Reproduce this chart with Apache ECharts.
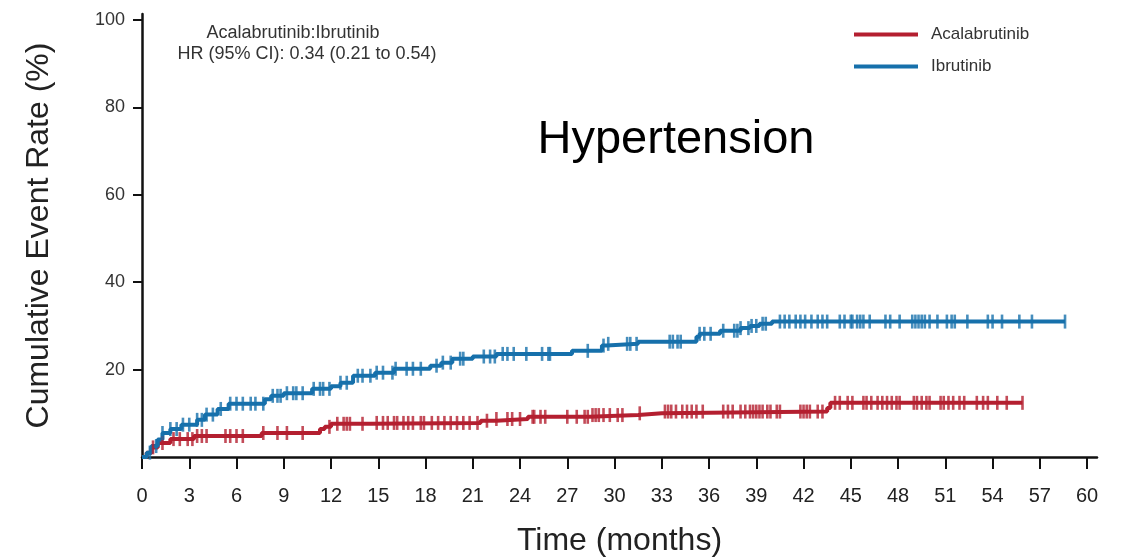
<!DOCTYPE html>
<html><head><meta charset="utf-8">
<script src="https://cdn.jsdelivr.net/npm/echarts@6/dist/echarts.min.js"></script>
<style>html,body{margin:0;padding:0;background:#fff}#c{width:1125px;height:558px}</style>
</head><body><div id="c"></div>
<script>
// ---- data ----
const xTicks = [0,3,6,9,12,15,18,21,24,27,30,33,36,39,42,45,48,51,54,57,60];
const yTicks = [20,40,60,80,100];
const seriesNames = ['Acalabrutinib','Ibrutinib'];

// Acalabrutinib KM step curve (time in months, cumulative event %)
const acalaT = [0,0.3,0.6,1.0,1.8,3.3,7.6,11.3,11.6,12.0,14.5,21.5,22.5,24.5,28.4,31.5,33.0,43.5,43.7,55.9];
const acalaV = [0,1.0,2.2,3.2,4.1,4.8,5.5,6.4,6.9,7.6,7.8,8.3,8.7,9.2,9.6,10.0,10.4,11.2,12.4,12.4];
const acalaCensor = [0.7,1.3,2.0,2.4,2.9,3.2,3.5,3.8,4.1,5.3,5.6,6.0,6.4,7.7,8.6,9.2,10.2,11.9,12.4,12.8,13.0,13.2,14.0,14.9,15.3,15.6,16.0,16.2,16.6,16.9,17.2,17.7,17.9,18.4,18.8,19.2,19.6,20.0,20.4,20.8,
  21.3,21.9,22.5,23.2,23.5,24.0,24.8,24.9,25.3,25.6,27.0,27.6,28.1,28.3,28.6,28.8,29.0,29.3,29.7,30.2,30.5,31.6,33.2,33.4,33.6,33.9,34.3,34.6,34.9,35.2,35.6,36.9,37.2,37.5,38.0,38.3,38.6,38.8,39.0,39.2,39.4,39.7,39.9,40.3,40.5,41.8,42.0,42.2,42.4,42.9,
  43.2,44.0,44.3,44.8,45.1,45.8,46.0,46.3,46.7,47.0,47.3,47.6,47.9,48.1,49.0,49.2,49.5,49.8,50.0,50.7,50.9,51.2,51.5,51.9,52.2,53.0,53.4,53.7,54.3,54.9,55.9];

// Ibrutinib KM step curve
const ibruT = [0,0.3,0.6,1.0,1.3,1.8,2.5,3.5,4.0,4.8,5.5,7.8,8.2,9.0,10.8,12.0,12.6,13.4,14.8,16.0,18.3,19.0,19.7,21.0,22.5,27.3,29.2,29.5,31.5,35.2,35.4,36.7,38.0,38.6,39.2,40.0,58.6];
const ibruV = [0,1.0,2.5,4.0,5.5,6.4,7.4,8.5,9.7,11.0,12.2,13.2,14.0,14.6,15.6,16.2,17.0,18.6,19.3,20.2,20.9,21.6,22.5,23.0,23.6,24.3,25.5,25.9,26.4,27.5,28.2,28.9,29.5,30.0,30.5,31.0,31.0];
const ibruCensor = [0.5,0.9,1.3,1.8,2.2,2.6,3.0,3.5,3.8,4.1,4.5,5.0,5.6,6.0,6.4,6.9,7.2,7.7,8.3,8.6,8.8,9.2,9.6,9.8,10.2,10.9,11.3,11.5,11.9,12.6,13.0,13.7,14.0,14.5,14.9,15.3,15.9,16.1,16.8,17.2,17.7,18.7,19.1,19.6,20.2,20.4,
  21.7,22.1,22.4,22.9,23.2,23.6,24.4,25.4,25.8,25.9,28.3,29.3,29.6,30.8,31.0,31.4,33.5,33.7,34.0,34.2,35.4,35.7,36.1,36.9,37.6,37.8,38.0,38.5,38.7,39.0,39.4,39.6,40.5,40.8,41.1,41.5,41.8,42.1,42.5,42.9,
  43.2,43.5,44.3,44.6,45.0,45.1,45.4,45.6,45.8,46.2,47.2,47.5,48.1,48.9,49.1,49.3,49.5,49.7,50.0,50.5,51.1,51.4,51.6,52.4,53.7,54.0,54.6,55.7,56.5,58.6];

// ---- helpers ----
const RED = '#B41F30', BLUE = '#1670AB';
function stepAt(ts, vs, t){ let v = vs[0]; for (let i=0;i<ts.length;i++){ if (ts[i] <= t) v = vs[i]; else break; } return v; }
const pairs = (ts, vs) => ts.map((t,i)=>[t, vs[i]]);
const censorPts = (cs, ts, vs) => cs.map(t => [t, stepAt(ts, vs, t)]);

const chart = echarts.init(document.getElementById('c'), null, {renderer:'canvas'});
const FONT = '"Liberation Sans", Arial, sans-serif';
chart.setOption({
  animation: false,
  backgroundColor: '#fff',
  grid: { left: 142, right: 28, top: 14, bottom: 101, containLabel: false, outerBoundsMode: 'none' },
  xAxis: {
    type: 'value', min: 0, max: 60.63,
    name: 'Time (months)', nameLocation: 'middle', nameGap: 68,
    nameTextStyle: { fontFamily: FONT, fontSize: 32, color: '#222' },
    axisLine: { show: true, onZero: false, lineStyle: { color: '#111', width: 2.5 } },
    axisTick: { show: true, length: 12, customValues: xTicks, lineStyle: { color: '#111', width: 2 } },
    axisLabel: { customValues: xTicks, margin: 29, fontFamily: FONT, fontSize: 20, color: '#222' },
    splitLine: { show: false }
  },
  yAxis: {
    type: 'value', min: 0, max: 101.4,
    name: 'Cumulative Event Rate (%)', nameLocation: 'middle', nameGap: 87, nameRotate: 90,
    nameTextStyle: { fontFamily: FONT, fontSize: 32, color: '#222' },
    axisLine: { show: true, onZero: false, lineStyle: { color: '#111', width: 2.5 } },
    axisTick: { show: true, length: 9, customValues: yTicks, lineStyle: { color: '#111', width: 2 } },
    axisLabel: { customValues: yTicks, margin: 17, fontFamily: FONT, fontSize: 18, color: '#333' },
    splitLine: { show: false }
  },
  legend: {
    data: seriesNames, orient: 'vertical', left: 849, top: 21,
    icon: 'rect', itemWidth: 64, itemHeight: 4, itemGap: 15,
    textStyle: { fontFamily: FONT, fontSize: 17, color: '#333', padding: [0,0,0,8] }
  },
  graphic: [
    { type: 'text', position: [293, 33], style: { text: 'Acalabrutinib:Ibrutinib', x: 0, y: 0, textAlign: 'center', textVerticalAlign: 'middle', font: '18px "Liberation Sans", Arial, sans-serif', fill: '#333' } },
    { type: 'text', position: [307, 54], style: { text: 'HR (95% CI): 0.34 (0.21 to 0.54)', x: 0, y: 0, textAlign: 'center', textVerticalAlign: 'middle', font: '18px "Liberation Sans", Arial, sans-serif', fill: '#333' } },
    { type: 'text', position: [676, 140], style: { text: 'Hypertension', x: 0, y: 0, textAlign: 'center', textVerticalAlign: 'middle', font: '47px "Liberation Sans", Arial, sans-serif', fill: '#000' } }
  ],
  series: [
    { name: seriesNames[0], type: 'line', step: 'end', data: pairs(acalaT, acalaV), showSymbol: false, symbol: 'none',
      itemStyle: { color: RED }, lineStyle: { color: RED, width: 4 }, z: 3 },
    { name: seriesNames[1], type: 'line', step: 'end', data: pairs(ibruT, ibruV), showSymbol: false, symbol: 'none',
      itemStyle: { color: BLUE }, lineStyle: { color: BLUE, width: 4 }, z: 3 },
    { name: 'acalaCensor', type: 'scatter', data: censorPts(acalaCensor, acalaT, acalaV), symbol: 'rect', symbolSize: [2.6, 14],
      itemStyle: { color: RED }, z: 4 },
    { name: 'ibruCensor', type: 'scatter', data: censorPts(ibruCensor, ibruT, ibruV), symbol: 'rect', symbolSize: [2.6, 14],
      itemStyle: { color: BLUE }, z: 4 }
  ]
});
</script></body></html>
